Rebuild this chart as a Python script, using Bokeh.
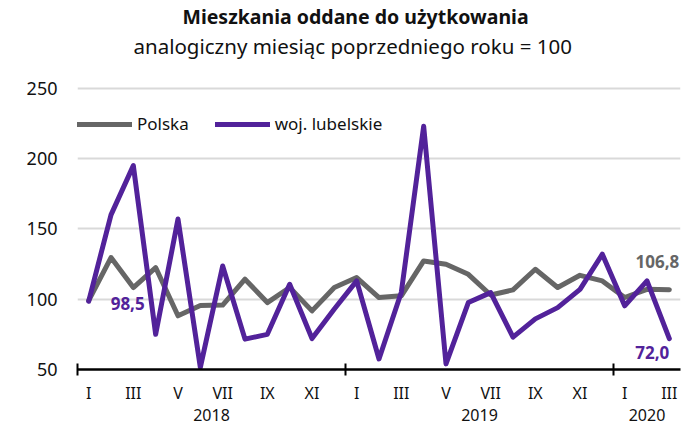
from bokeh.plotting import figure
from bokeh.models import (ColumnDataSource, Range1d, LinearAxis, FixedTicker, Legend,
                          LegendItem, Label, Title)
from bokeh.embed import file_html
from bokeh.resources import INLINE

months = ["I", "II", "III", "IV", "V", "VI", "VII", "VIII", "IX", "X", "XI", "XII"] * 2 + ["I", "II", "III"]
years = ["2018", "2019", "2020"]
polska = [99.0, 129.6, 108.3, 122.5, 88.2, 95.5, 95.8, 114.2, 97.6, 108.3, 91.7, 108.3,
          115.4, 101.2, 102.4, 127.2, 124.8, 117.7, 103.0, 106.6, 121.3, 108.3, 117.0, 113.0,
          101.2, 107.0, 106.8]
lubelskie = [98.5, 160.0, 195.0, 75.0, 157.0, 51.5, 123.6, 71.6, 75.0, 110.6, 72.0, 93.0,
             113.0, 57.5, 105.0, 223.0, 54.0, 97.6, 104.7, 73.0, 86.0, 94.0, 107.0, 132.0,
             95.3, 113.0, 72.0]

x = list(range(len(polska)))
src = ColumnDataSource(dict(x=x, polska=polska, lub=lubelskie))

GRAY = "#666666"
PURPLE = "#52229a"
FONT = "Noto Sans"
TXT = "#111111"

p = figure(width=684, height=425, output_backend="svg", toolbar_location=None,
           x_range=Range1d(-0.5, len(x) - 0.5), y_range=Range1d(50, 252),
           min_border_left=77, min_border_right=4, min_border_top=5, min_border_bottom=56)
p.outline_line_color = None
p.background_fill_color = None
p.border_fill_color = "white"

p.add_layout(Title(text=" ", text_font=FONT, text_font_size="18px", standoff=0), "above")
p.add_layout(Title(text="analogiczny miesiąc poprzedniego roku = 100", align="left",
                   text_font=FONT, text_font_size="20.5px", text_font_style="normal",
                   text_color=TXT, standoff=0, offset=56), "above")
p.add_layout(Title(text="Mieszkania oddane do użytkowania", align="left",
                   text_font=FONT, text_font_size="19.5px", text_font_style="bold",
                   text_color=TXT, standoff=0, offset=105), "above")

# y axis
p.yaxis.ticker = FixedTicker(ticks=[50, 100, 150, 200, 250])
p.yaxis.axis_line_color = None
p.yaxis.major_tick_line_color = None
p.yaxis.major_tick_out = 0
p.yaxis.major_tick_in = 0
p.yaxis.minor_tick_line_color = None
p.yaxis.major_label_text_font = FONT
p.yaxis.major_label_text_font_size = "18px"
p.yaxis.major_label_text_color = TXT
p.yaxis.major_label_standoff = 20
p.ygrid.ticker = FixedTicker(ticks=[100, 150, 200, 250])
p.ygrid.grid_line_color = "#d9d9d9"
p.ygrid.grid_line_width = 2
p.xgrid.grid_line_color = None

# x axis: line with year boundary ticks
ax = p.xaxis[0]
ax.ticker = FixedTicker(ticks=[-0.5, 11.5, 23.5])
ax.major_label_overrides = {-0.5: "", 11.5: "", 23.5: ""}
ax.axis_line_color = "black"
ax.axis_line_width = 2.5
ax.major_tick_line_color = "black"
ax.major_tick_line_width = 2
ax.major_tick_in = 6
ax.major_tick_out = 6
ax.minor_tick_line_color = None
ax.major_label_standoff = 0

ax2 = LinearAxis(ticker=FixedTicker(ticks=list(range(0, len(x), 2))),
                 major_label_overrides={i: months[i] for i in range(0, len(x), 2)})
ax2.axis_line_color = None
ax2.major_tick_line_color = None
ax2.major_tick_in = 0
ax2.major_tick_out = 0
ax2.minor_tick_line_color = None
ax2.major_label_text_font = FONT
ax2.major_label_text_font_size = "16px"
ax2.major_label_text_color = TXT
ax2.major_label_standoff = 6
p.add_layout(ax2, "below")

year_pos = [5.5, 17.5, 25.0]
ax3 = LinearAxis(ticker=FixedTicker(ticks=year_pos),
                 major_label_overrides={year_pos[i]: years[i] for i in range(3)})
ax3.axis_line_color = None
ax3.major_tick_line_color = None
ax3.major_tick_in = 0
ax3.major_tick_out = 0
ax3.minor_tick_line_color = None
ax3.major_label_text_font = FONT
ax3.major_label_text_font_size = "16px"
ax3.major_label_text_color = TXT
ax3.major_label_standoff = 2
p.add_layout(ax3, "below")

r1 = p.line("x", "polska", source=src, line_color=GRAY, line_width=5, line_join="round",
            line_cap="round")
r2 = p.line("x", "lub", source=src, line_color=PURPLE, line_width=5, line_join="round",
            line_cap="round")

legend = Legend(items=[LegendItem(label="Polska", renderers=[r1]),
                       LegendItem(label="woj. lubelskie", renderers=[r2])],
                orientation="horizontal", location=(0, 234),
                background_fill_alpha=0, border_line_color=None,
                label_text_font=FONT, label_text_font_size="17px", label_text_color=TXT,
                glyph_width=55, glyph_height=20, spacing=26, label_standoff=5,
                margin=0, padding=0)
p.add_layout(legend)

p.add_layout(Label(x=0, y=lubelskie[0], text="98,5", x_offset=22, y_offset=-9,
                   text_font=FONT, text_font_style="bold", text_font_size="17px",
                   text_color=PURPLE))
p.add_layout(Label(x=len(x) - 1, y=lubelskie[-1], text="72,0", x_offset=0, y_offset=-20,
                   text_align="right",
                   text_font=FONT, text_font_style="bold", text_font_size="17px",
                   text_color=PURPLE))
p.add_layout(Label(x=len(x) - 1, y=polska[-1], text="106,8", x_offset=10, y_offset=22,
                   text_align="right",
                   text_font=FONT, text_font_style="bold", text_font_size="17px",
                   text_color=GRAY))

open("out.html", "w").write(file_html(p, INLINE))
